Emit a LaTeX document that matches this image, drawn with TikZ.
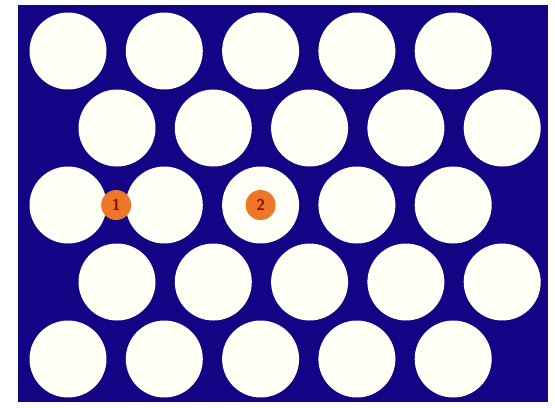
\documentclass[tikz,border=0pt]{standalone}
\usepackage{tikz}
\usetikzlibrary{positioning, calc}
\definecolor{platenavy}{RGB}{18,4,132}
\definecolor{holecream}{RGB}{255,255,246}
\definecolor{siteorange}{RGB}{238,118,40}
\definecolor{sitered}{RGB}{140,16,8}

\begin{document}
\begin{tikzpicture}[
    x=0.02cm, y=-0.02cm,
    hole/.style={circle, fill=holecream, draw=none, inner sep=0pt, minimum size=1.54cm},
    site/.style={circle, fill=siteorange, draw=none, inner sep=0pt, minimum size=0.6cm,
                 font=\sffamily\small\bfseries, text=sitered}
]
\useasboundingbox (0,0) rectangle (555,407);

% Plate
\fill[platenavy] (18,5) rectangle (548,402);

% Holes, staggered rows
\foreach \r/\yy in {1/51, 3/205, 5/359} {
  \foreach \c in {1,...,5} {
    \node[hole] (hole-\r-\c) at ({68+96.3*(\c-1)}, \yy) {};
  }
}
\foreach \r/\yy in {2/128, 4/282} {
  \foreach \c in {1,...,5} {
    \node[hole] (hole-\r-\c) at ({117+96.3*(\c-1)}, \yy) {};
  }
}

% Sites
\node[site] (site1) at ($(hole-3-1)!0.5!(hole-3-2)$) {1};
\node[site] (site2) at (hole-3-3) {2};

\end{tikzpicture}
\end{document}
